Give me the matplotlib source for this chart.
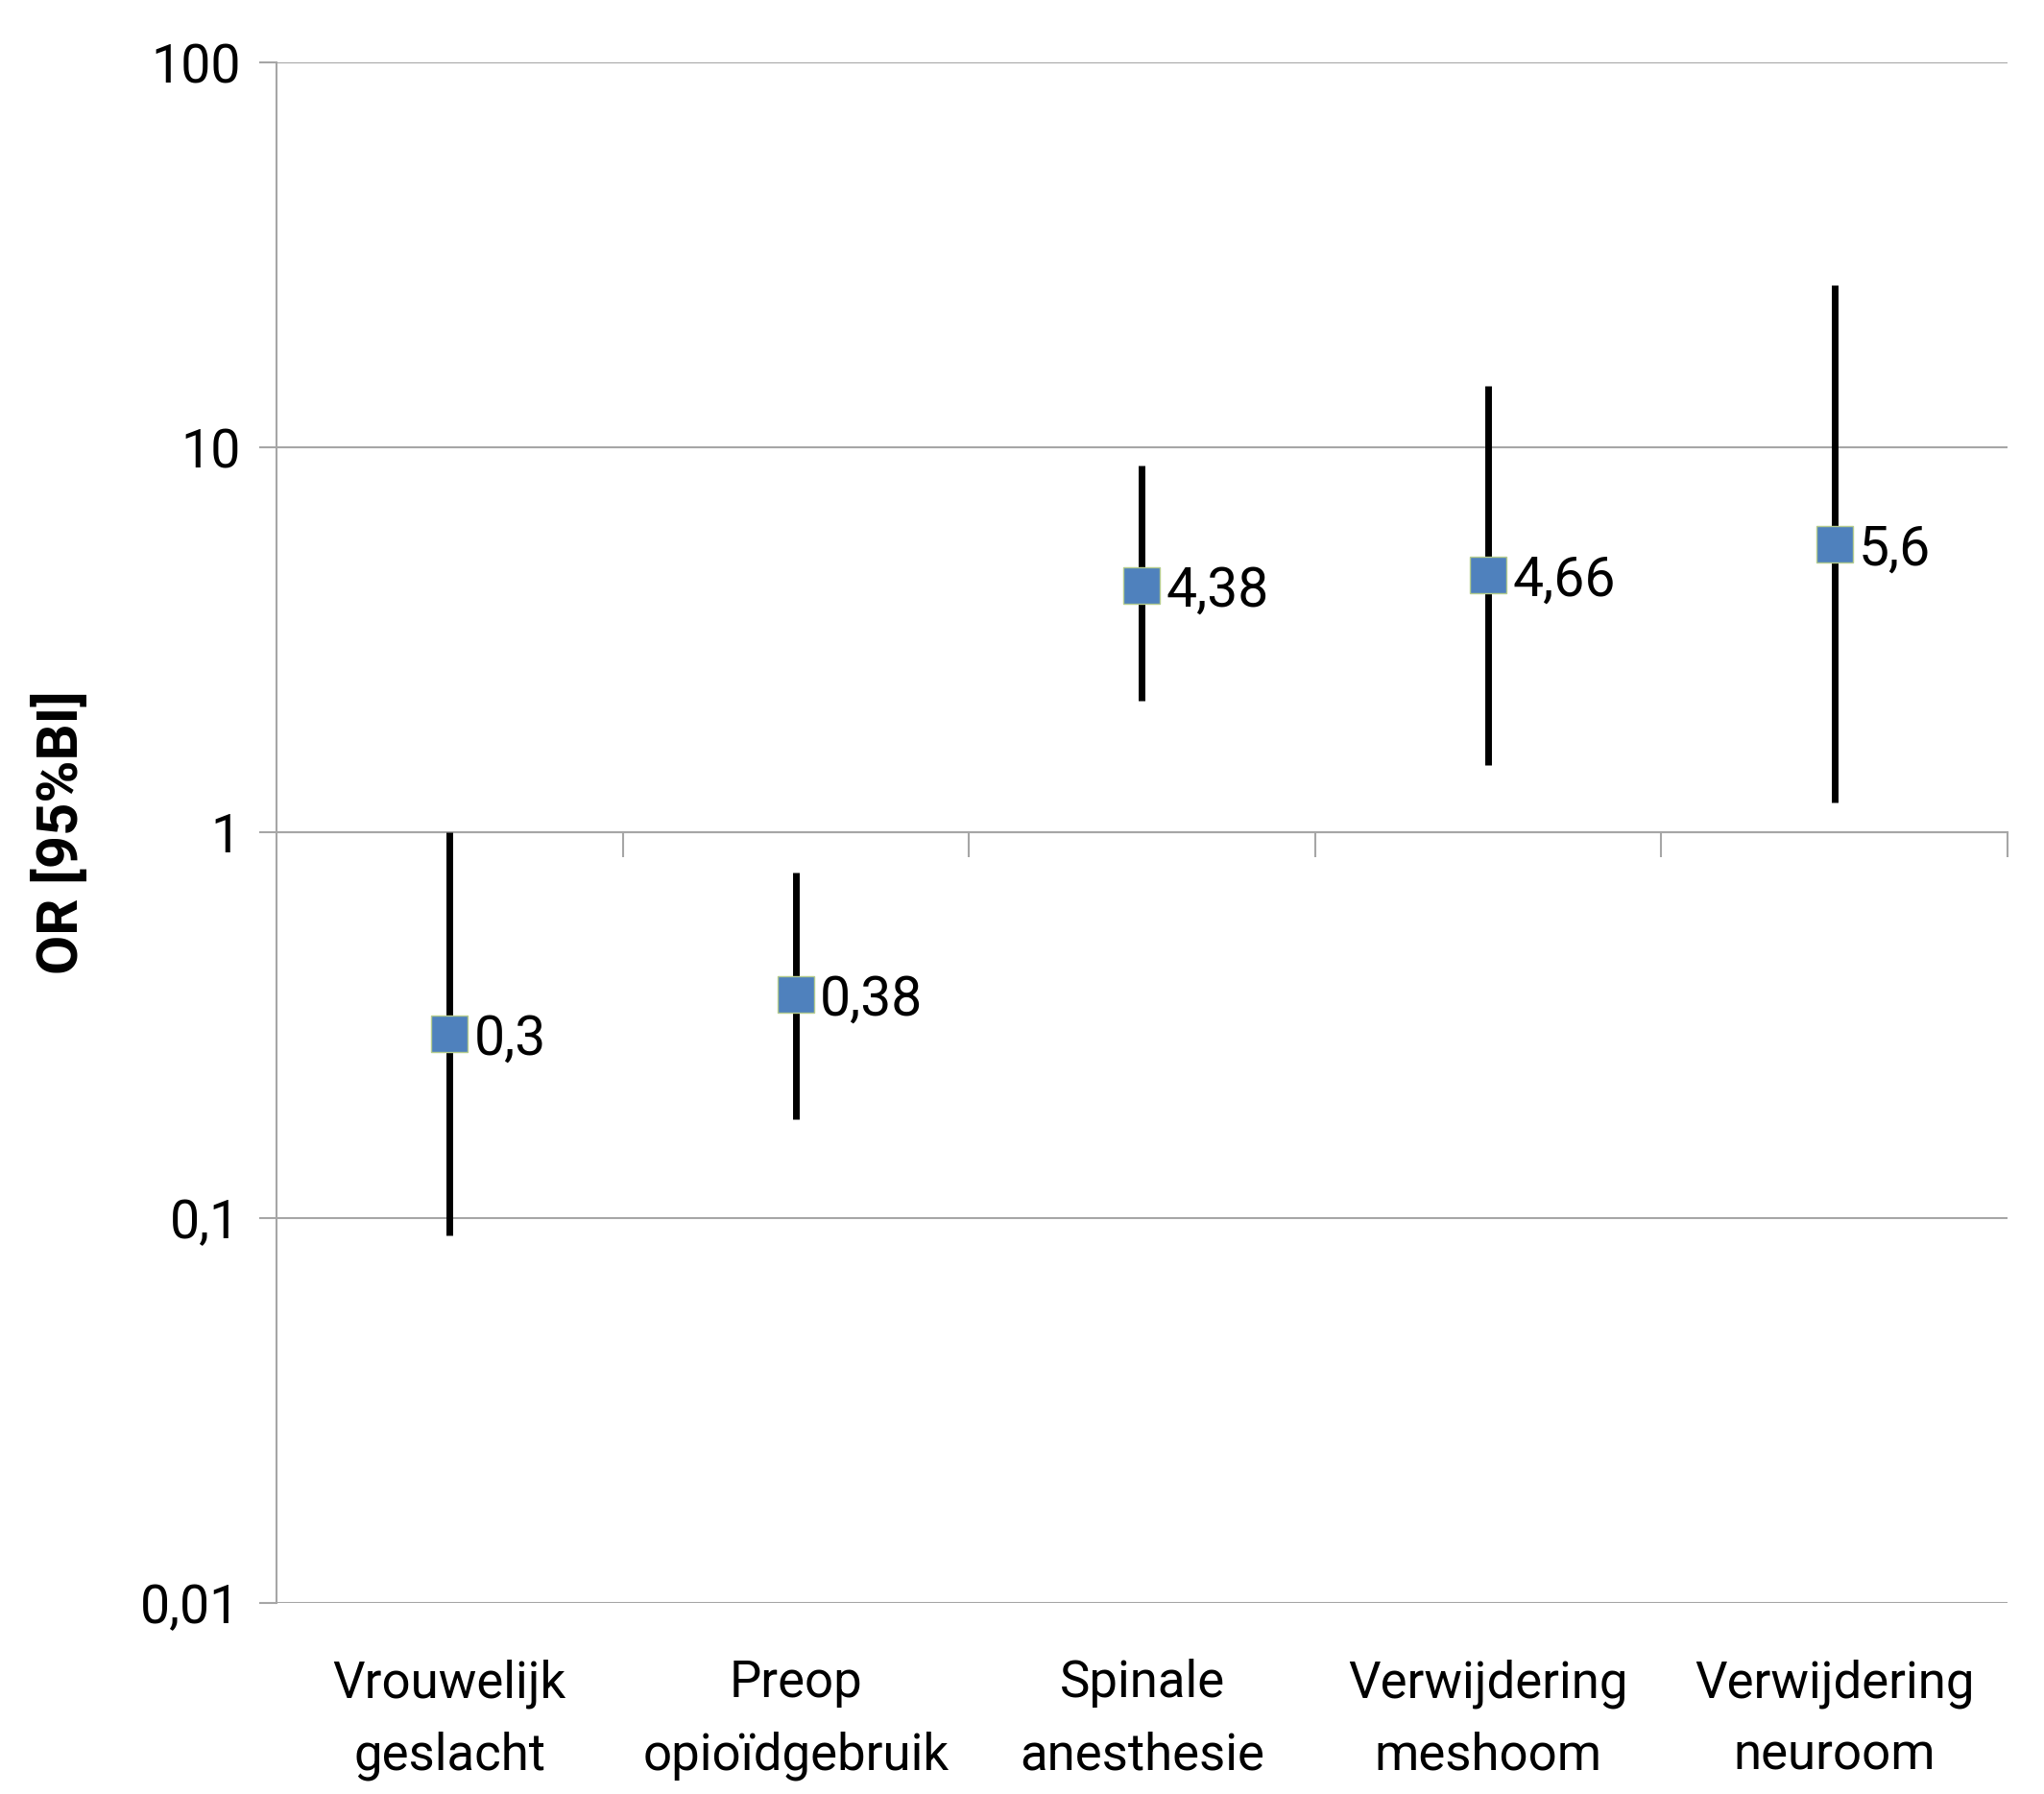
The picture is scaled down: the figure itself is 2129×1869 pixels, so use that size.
import matplotlib.pyplot as plt
from matplotlib.ticker import FixedLocator, NullLocator

plt.rcParams['font.family'] = ['Liberation Sans Narrow', 'Roboto', 'DejaVu Sans']

categories = ["Vrouwelijk\ngeslacht", "Preop\nopioïdgebruik", "Spinale\nanesthesie",
              "Verwijdering\nmeshoom", "Verwijdering\nneuroom"]
odds_ratio = [0.3, 0.38, 4.38, 4.66, 5.6]
ci_lower = [0.09, 0.18, 2.2, 1.5, 1.2]
ci_upper = [1.0, 0.79, 9.0, 14.5, 26.4]
or_labels = ["0,3", "0,38", "4,38", "4,66", "5,6"]
y_ticks = [0.01, 0.1, 1, 10, 100]
y_tick_labels = ["0,01", "0,1", "1", "10", "100"]

grid_color = "#A6A6A6"
font_size = 38

fig = plt.figure(figsize=(21.29, 18.69), dpi=100)
ax = fig.add_axes([0.1353, 0.1065, 0.8468, 0.8587])

x = list(range(len(categories)))

ax.vlines(x, ci_lower, ci_upper, color="black", linewidth=5, zorder=3)
ax.plot(x, odds_ratio, linestyle="none", marker="s", markersize=27,
        markerfacecolor="#4F81BD", markeredgecolor="#B5CC8E",
        markeredgewidth=1, zorder=4)

for xi, yi, lab in zip(x, odds_ratio, or_labels):
    ax.annotate(lab, (xi, yi), xytext=(18, -4), textcoords="offset points",
                ha="left", va="center", fontsize=font_size + 3)

ax.set_yscale("log")
ax.set_ylim(0.01, 100)
ax.set_xlim(-0.5, len(categories) - 0.5)

ax.yaxis.set_major_locator(FixedLocator(y_ticks))
ax.yaxis.set_minor_locator(NullLocator())
ax.set_yticklabels(y_tick_labels, fontsize=font_size + 2)
ax.tick_params(axis="y", direction="out", length=13, width=1.5,
               color=grid_color, pad=14)
ax.grid(axis="y", color=grid_color, linewidth=1.5, zorder=0)
ax.set_axisbelow(True)

# horizontal axis crosses at OR = 1
ax.spines["bottom"].set_position(("data", 1))
ax.spines["bottom"].set_color(grid_color)
ax.spines["bottom"].set_linewidth(1.5)
ax.spines["left"].set_color(grid_color)
ax.spines["left"].set_linewidth(1.5)
ax.spines["top"].set_visible(False)
ax.spines["right"].set_visible(False)
ax.xaxis.set_major_locator(FixedLocator([i + 0.5 for i in x]))
ax.xaxis.set_minor_locator(NullLocator())
ax.tick_params(axis="x", direction="out", length=19, width=1.5,
               color=grid_color, labelbottom=False)

# category labels at the bottom
sec = ax.secondary_xaxis("bottom")
sec.set_xticks(x)
sec.set_xticklabels(categories, fontsize=font_size, linespacing=1.6)
sec.tick_params(length=0, pad=42)
sec.spines["bottom"].set_visible(False)

ax.set_ylabel("OR [95%BI]", fontsize=font_size + 5, fontweight="bold", labelpad=38)

fig.savefig("out.png", dpi=100)
